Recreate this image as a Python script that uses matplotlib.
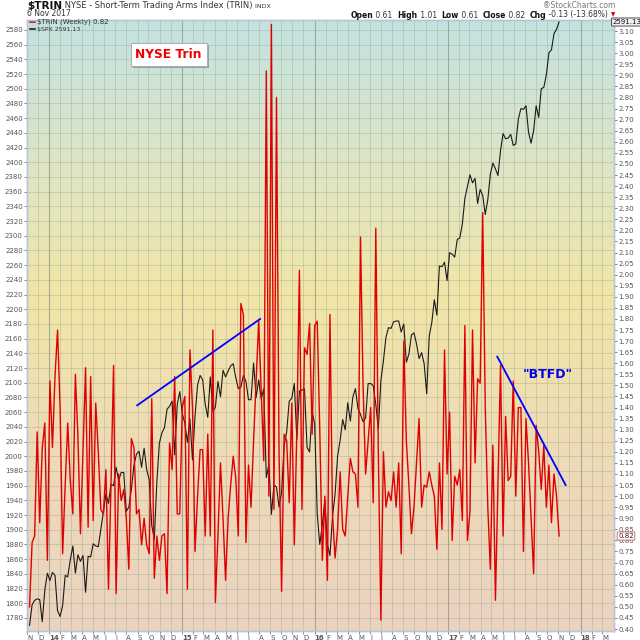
import matplotlib
matplotlib.use("Agg")
import matplotlib.pyplot as plt
import matplotlib.patheffects as pe
from matplotlib.colors import LinearSegmentedColormap
import numpy as np
import pandas as pd

# weekly NYSE TRIN, Nov 2013 -> Nov 2017
trin = [0.50, 0.79, 0.82, 1.29, 0.88, 1.22, 1.33, 0.71, 1.52, 1.22, 1.54, 1.75, 1.40, 0.74, 1.05,
        1.33, 1.07, 0.92, 1.55, 1.27, 0.83, 1.20, 1.58, 0.86, 1.54, 0.89, 1.42, 1.20, 0.94, 0.92,
        1.12, 0.58, 1.05, 1.59, 0.56, 1.10, 0.98, 1.03, 0.90, 0.67, 1.26, 1.22, 0.92, 0.94, 0.78,
        0.90, 0.78, 0.74, 1.44, 0.63, 0.82, 0.71, 0.82, 0.83, 0.56, 1.24, 1.12, 1.54,
        0.92, 0.92, 1.40, 1.45, 0.58, 1.66, 1.40, 0.75, 1.00, 1.21, 1.21, 0.82, 1.28, 0.82, 1.75,
        0.52, 0.82, 1.15, 0.90, 0.62, 0.90, 1.05, 1.18, 1.08, 0.82, 1.87, 1.82, 0.79, 1.14, 0.95,
        1.25, 1.52, 1.79, 1.47, 1.16, 2.92, 1.00, 3.13, 0.94, 2.80, 1.20, 0.57, 1.28, 1.25, 0.97,
        1.42, 0.78, 1.30, 2.02, 0.94, 1.67, 1.64, 1.78, 1.28, 1.77, 1.79,
        1.30, 0.71, 1.00, 0.62, 1.82, 0.92, 0.72, 0.85, 1.11, 0.85, 0.82, 1.00, 1.17, 1.11, 1.10,
        0.95, 2.17, 1.50, 1.10, 1.25, 1.40, 0.97, 2.21, 1.20, 0.44, 1.20, 0.95, 1.02, 0.98, 1.11,
        0.95, 1.15, 0.74, 1.70, 1.25, 1.05, 0.83, 0.95, 1.15, 1.35, 0.95, 1.05, 1.04, 1.11, 1.05,
        1.00, 0.76, 1.15, 0.85, 1.66, 1.10, 1.38, 0.80, 1.09, 1.05,
        1.12, 0.89, 1.77, 0.80, 0.93, 1.75, 1.15, 1.53, 1.51, 2.28, 1.40, 0.95, 0.67, 1.23, 0.53,
        1.05, 1.59, 0.82, 1.36, 1.07, 1.09, 1.52, 1.00, 1.40, 1.40, 0.75, 1.35, 1.15, 0.90, 0.65,
        1.32, 1.20, 1.03, 1.23, 0.95, 1.14, 0.88, 1.10, 1.00, 0.82]

# weekly S&P 500 close, same weeks
spx = [1770, 1798, 1804, 1806, 1805, 1775, 1818, 1841, 1831, 1842, 1838, 1790, 1782, 1797, 1838,
       1836, 1859, 1878, 1841, 1866, 1857, 1865, 1815, 1864, 1863, 1881, 1878, 1877, 1900, 1924,
       1949, 1936, 1962, 1960, 1985, 1967, 1978, 1978, 1925, 1931, 1955, 1988, 2003, 2007, 1985,
       2011, 1982, 1968, 1906, 1887, 1965, 2018, 2032, 2039, 2064, 2068, 2075, 2002,
       2070, 2088, 2058, 2045, 2019, 2051, 1995, 2055, 2097, 2110, 2104, 2071, 2053, 2108, 2061,
       2067, 2102, 2081, 2117, 2108, 2116, 2123, 2126, 2107, 2092, 2094, 2110, 2102, 2077, 2077,
       2127, 2080, 2104, 2078, 2092, 1971, 1989, 1921, 1961, 1958, 1931, 1951, 2015, 2033, 2075,
       2079, 2099, 2023, 2089, 2090, 2092, 2012, 2006, 2061, 2044, 1922, 1880,
       1907, 1940, 1880, 1865, 1918, 1948, 2000, 2022, 2050, 2036, 2073, 2048, 2081, 2092, 2065,
       2057, 2047, 2052, 2099, 2099, 2096, 2071, 2037, 2103, 2130, 2162, 2175, 2174, 2183, 2184,
       2184, 2169, 2180, 2128, 2139, 2165, 2168, 2153, 2133, 2141, 2126, 2085, 2164, 2182, 2213,
       2192, 2259, 2258, 2264, 2239,
       2277, 2275, 2271, 2295, 2297, 2316, 2351, 2367, 2383, 2372, 2378, 2344, 2363, 2355, 2329,
       2349, 2384, 2399, 2391, 2382, 2416, 2439, 2432, 2433, 2438, 2423, 2425, 2459, 2473, 2472,
       2477, 2441, 2426, 2443, 2477, 2461, 2500, 2502, 2519, 2549, 2553, 2575, 2581, 2591]

weeks = pd.date_range(end="2017-11-03", periods=len(spx), freq="7D")

# hand drawn trend lines (TRIN scale)
trend1_dates = pd.to_datetime(["2014-08-31", "2015-08-04"])
trend1_vals = [1.41, 1.80]
trend2_dates = pd.to_datetime(["2017-05-17", "2017-11-21"])
trend2_vals = [1.63, 1.05]

W, H = 640, 640
fig = plt.figure(figsize=(6.4, 6.4), dpi=100)
fig.patch.set_facecolor("white")

def fx(x):
    return x / W

def fy(y):
    return 1 - y / H

left, right, top, bottom = 27, 614, 20, 631
ax = fig.add_axes([fx(left), fy(bottom), (right - left) / W, (bottom - top) / H])
ax2 = ax.twinx()

# background gradient
cmap = LinearSegmentedColormap.from_list("bg", [
    (0.0, "#ebd3c1"), (0.3, "#eedbb6"), (0.55, "#f1e6a7"),
    (0.75, "#dfe5c4"), (1.0, "#c3e2e0")])
grad = np.linspace(0, 1, 256).reshape(-1, 1)
ax.imshow(grad, extent=[0, 1, 0, 1], transform=ax.transAxes, aspect="auto",
          cmap=cmap, origin="lower", zorder=0)

ax.plot(weeks, spx, color="#1a1a1a", lw=0.8, zorder=3)
ax2.plot(weeks, trin, color="#e00000", lw=1.0, zorder=3)
ax2.plot(trend1_dates, trend1_vals, color="#0000ff", lw=1.3, zorder=4)
ax2.plot(trend2_dates, trend2_vals, color="#0000ff", lw=1.3, zorder=4)

ax.set_xlim(pd.Timestamp("2013-11-01"), pd.Timestamp("2018-04-03"))
ax.set_ylim(1762.3, 2593.6)
ax2.set_ylim(0.391, 3.150)

# x ticks: month letters, bold two digit year in January
months = pd.date_range("2013-11-01", "2018-03-01", freq="MS")
ax.set_xticks(months)
labels = [m.strftime("%y") if m.month == 1 else m.strftime("%b")[0] for m in months]
ax.set_xticklabels(labels)
for m, lab in zip(months, ax.get_xticklabels()):
    lab.set_ha("left")
    if m.month == 1:
        lab.set_fontweight("bold")

ax.set_yticks(np.arange(1780, 2581, 20))
ax2.set_yticks(np.arange(0.40, 3.101, 0.05))
ax2.set_yticklabels(["%.2f" % v for v in np.arange(0.40, 3.101, 0.05)])

ax.tick_params(axis="both", labelsize=5, colors="#555555", length=2, width=0.5, pad=1)
ax2.tick_params(axis="y", labelsize=5, colors="#555555", length=2, width=0.5, pad=1)

ax.grid(True, color="#8e9a86", alpha=0.45, lw=0.5, zorder=1)
for yr in [2014, 2015, 2016, 2017, 2018]:
    ax.axvline(pd.Timestamp("%d-01-01" % yr), color="#85907e", alpha=0.6, lw=0.8, zorder=1)

for a in (ax, ax2):
    for s in a.spines.values():
        s.set_color("#b5c6d6")
        s.set_linewidth(1.0)

# annotations
title_box = ax.text(0.2414, 0.944, "NYSE Trin", transform=ax.transAxes, color="#ee0000",
                    fontsize=8.8, fontweight="bold", ha="center", va="center", zorder=6,
                    bbox=dict(boxstyle="square,pad=0.4", fc="white", ec="#b0b0b0", lw=0.8))
title_box.get_bbox_patch().set_path_effects(
    [pe.withSimplePatchShadow(offset=(1.5, -1.5), shadow_rgbFace="#909090", alpha=0.8)])
ax.text(0.888, 0.419, '"BTFD"', transform=ax.transAxes, color="#0000ee",
        fontsize=9, fontweight="bold", ha="center", va="center", zorder=6)

# legend in the top left corner
ax.plot([fx(30), fx(35)], [fy(22), fy(22)], transform=fig.transFigure, color="#e00000", lw=1.2, clip_on=False)
ax.plot([fx(30), fx(35)], [fy(29), fy(29)], transform=fig.transFigure, color="#222222", lw=1.2, clip_on=False)
fig.text(fx(37), fy(22), "$TRIN (Weekly) 0.82", fontsize=5, color="#333333", va="center")
fig.text(fx(37), fy(29), "$SPX 2591.13", fontsize=4.5, color="#333333", va="center")

# last value boxes on the right axis
fig.text(fx(627), fy(22), "2591.13", fontsize=5, color="#111111", ha="center", va="center",
         bbox=dict(boxstyle="round,pad=0.15", fc="#eeeeee", ec="#333333", lw=0.6))
ax2.annotate("0.82", xy=(1.0, 0.82), xycoords=("axes fraction", "data"),
             xytext=(3, 0), textcoords="offset points", fontsize=5, color="#222222",
             va="center", ha="left", annotation_clip=False,
             bbox=dict(boxstyle="round,pad=0.15", fc="white", ec="#e05050", lw=0.6))

# header runs of text
renderer = fig.canvas.get_renderer()

def run(x, y, parts, align="left"):
    widths = []
    for s, kw in parts:
        t = fig.text(0, 0, s, **kw)
        widths.append(t.get_window_extent(renderer).width)
        t.remove()
    total = sum(widths)
    cur = x if align == "left" else x - total
    for (s, kw), w in zip(parts, widths):
        fig.text(fx(cur), fy(y), s, va="center", ha="left", **kw)
        cur += w

run(27, 6, [("$TRIN", dict(fontsize=7.5, fontweight="bold", color="#111111")),
            (" NYSE - Short-Term Trading Arms Index (TRIN)", dict(fontsize=6, color="#333333")),
            (" INDX", dict(fontsize=4.5, color="#333333"))])
fig.text(fx(27), fy(14), "6 Nov 2017", fontsize=5.5, color="#333333", va="center")

run(615, 6, [("\u00aeStockCharts.com", dict(fontsize=5.5, color="#777777"))], align="right")
b = dict(fontsize=5.5, fontweight="bold", color="#111111")
n = dict(fontsize=5.5, color="#333333")
run(615, 15, [("Open", b), (" 0.61  ", n), ("High", b), (" 1.01  ", n), ("Low", b),
              (" 0.61  ", n), ("Close", b), (" 0.82  ", n), ("Chg", b),
              (" -0.13 (-13.68%) ", n), ("\u25bc", dict(fontsize=4, color="#cc0000"))],
    align="right")

fig.savefig("out.png", dpi=100)
